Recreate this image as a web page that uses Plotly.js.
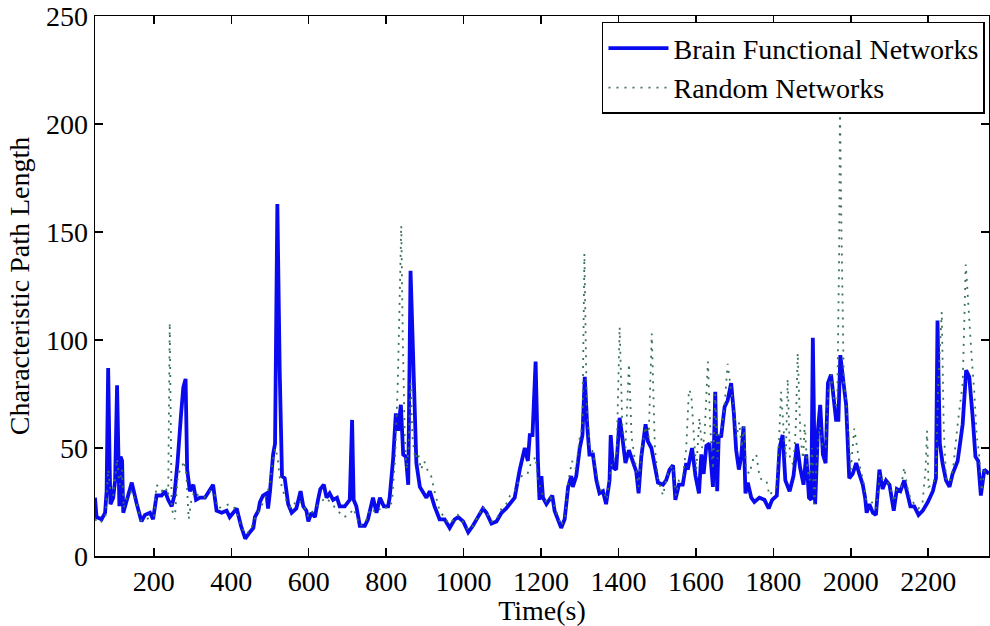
<!DOCTYPE html>
<html>
<head>
<meta charset="utf-8">
<script src="https://cdn.plot.ly/plotly-3.0.1.min.js"></script>
<style>html,body{margin:0;padding:0;background:#fff;}#chart{width:990px;height:626px;}</style>
</head>
<body>
<div id="chart"></div>
<script>
// Brain functional networks (solid blue)
const brainTime = [48,52,65,74,78,82,86,88,95,100,105,109,111,114,118,121,130,143,156,168,177,190,198,207,220,229,237,246,253,261,270,276,282,286,293,302,309,319,332,343,353,362,375,388,396,405,414,425,436,448,457,461,470,474,482,491,495,500,508,513,519,525,531,538,547,556,568,579,586,594,599,607,616,624,630,639,646,654,663,673,680,693,706,712,716,723,732,745,753,762,766,775,784,794,805,809,818,825,831,838,844,851,857,863,870,878,887,895,904,913,925,938,951,964,977,986,999,1012,1024,1037,1050,1059,1072,1085,1098,1110,1119,1132,1145,1158,1166,1171,1178,1186,1192,1196,1201,1205,1214,1222,1229,1235,1244,1252,1261,1270,1278,1282,1291,1300,1307,1313,1319,1325,1334,1343,1351,1360,1368,1377,1380,1386,1394,1403,1410,1418,1427,1436,1446,1452,1459,1470,1476,1485,1493,1502,1515,1523,1532,1541,1547,1556,1566,1575,1579,1590,1599,1608,1614,1620,1627,1635,1644,1650,1655,1659,1665,1674,1682,1691,1698,1704,1711,1717,1723,1728,1734,1743,1751,1764,1777,1788,1797,1809,1816,1824,1831,1842,1852,1861,1869,1878,1885,1892,1898,1902,1908,1915,1921,1928,1935,1941,1949,1958,1962,1968,1973,1982,1988,1992,1996,2005,2014,2022,2031,2037,2041,2048,2057,2065,2074,2082,2091,2100,2111,2119,2128,2138,2145,2154,2164,2175,2186,2199,2212,2220,2224,2230,2237,2246,2255,2263,2276,2289,2298,2306,2315,2322,2329,2336,2345,2357];
const brainCPL = [27,18,17,20,30,87,40,24,27,35,79,30,23,46,44,20,26,34,24,16,19,20,17,28,28,30,26,23,28,43,65,78,82,40,30,33,26,27,27,30,33,21,20,21,18,20,22,14,8,11,13,18,21,25,28,29,22,30,47,52,163,86,37,36,24,20,22,30,23,21,16,20,18,26,31,33,27,29,26,27,23,23,26,63,26,23,14,14,17,24,27,20,27,23,23,27,45,66,58,70,47,46,33,132,86,43,32,30,27,30,23,17,17,13,17,18,16,11,14,18,22,20,15,16,20,22,24,27,40,50,44,56,56,90,44,26,37,27,24,26,28,21,17,13,17,32,37,32,37,50,56,83,61,47,47,35,29,30,24,35,56,41,40,64,55,43,49,44,39,29,46,61,53,50,43,34,33,35,40,42,26,33,33,43,40,50,37,29,47,38,51,52,32,76,30,56,55,69,72,80,66,49,40,46,60,29,34,27,25,27,26,22,26,28,50,56,35,30,37,52,41,33,47,27,26,101,24,58,70,47,43,80,84,67,63,63,93,79,70,53,36,38,43,38,33,27,20,24,20,19,40,31,35,33,21,31,30,35,29,23,23,19,21,25,30,36,109,52,43,35,32,38,44,61,86,83,64,46,44,28,40,38];

// Random networks (dotted green)
const randTime = [48,60,75,82,88,96,105,112,118,122,130,143,156,168,180,192,200,207,220,230,237,241,246,254,262,270,278,284,290,297,305,315,330,345,355,365,380,395,410,425,437,450,462,475,490,500,508,514,520,526,534,545,555,570,585,600,615,630,645,660,675,690,705,715,722,732,745,760,775,790,805,815,823,830,835,839,843,848,853,858,863,868,875,882,890,898,906,915,925,938,950,962,975,985,998,1012,1025,1038,1050,1060,1072,1085,1098,1110,1120,1132,1145,1155,1165,1172,1180,1186,1192,1198,1205,1214,1225,1235,1245,1252,1262,1270,1280,1290,1300,1307,1312,1318,1326,1335,1345,1355,1362,1370,1378,1385,1395,1403,1410,1418,1427,1434,1446,1452,1460,1470,1478,1486,1494,1502,1515,1524,1532,1541,1548,1556,1566,1575,1582,1588,1595,1601,1609,1616,1622,1631,1637,1644,1650,1656,1662,1668,1675,1682,1690,1698,1705,1712,1718,1724,1730,1738,1748,1756,1765,1775,1782,1790,1798,1808,1815,1820,1826,1832,1837,1843,1852,1858,1863,1870,1877,1881,1888,1894,1900,1906,1912,1920,1928,1935,1941,1949,1958,1965,1970,1972,1976,1982,1988,1993,2000,2009,2018,2025,2032,2040,2050,2058,2066,2075,2083,2091,2100,2112,2120,2130,2138,2146,2155,2165,2175,2185,2193,2197,2201,2212,2220,2226,2235,2240,2246,2256,2264,2276,2289,2297,2305,2313,2319,2325,2331,2338,2346,2357];
const randCPL = [17,15,18,40,30,28,45,33,40,22,27,30,24,16,17,18,18,33,30,32,28,108,22,17,38,40,44,38,17,26,30,28,27,30,30,22,23,24,22,14,10,12,18,22,28,33,45,50,45,35,30,24,22,26,24,18,22,25,27,24,21,18,19,22,19,14,15,22,20,23,22,25,45,80,120,153,100,55,40,50,80,55,45,48,40,44,40,38,30,21,18,15,17,19,16,12,14,19,23,20,16,17,22,24,28,30,36,38,38,42,44,46,35,32,28,25,27,23,18,14,18,34,44,40,55,60,140,70,50,48,36,30,30,26,38,45,45,106,60,50,89,55,40,32,50,60,55,103,50,36,28,36,40,42,28,35,36,50,77,75,55,40,64,50,55,90,60,40,75,45,58,60,72,89,78,68,55,62,50,60,40,38,45,47,36,35,35,28,30,32,55,76,60,45,82,45,42,60,94,55,45,61,40,35,50,24,45,60,50,50,75,84,70,70,140,210,150,80,72,60,40,59,47,40,35,26,26,24,22,38,35,35,33,25,32,32,41,32,26,24,22,24,40,58,32,33,38,80,113,60,36,34,40,61,80,135,110,90,76,56,48,30,40,38];

// Axis ticks
const xTicks = [200,400,600,800,1000,1200,1400,1600,1800,2000,2200];
const yTicks = [0,50,100,150,200,250];

const serif = '"Liberation Serif", "Times New Roman", Times, serif';

const traces = [
  {
    x: brainTime, y: brainCPL, type: 'scatter', mode: 'lines',
    name: 'Brain Functional Networks',
    line: {color: '#0a0aee', width: 3.8}
  },
  {
    x: randTime, y: randCPL, type: 'scatter', mode: 'lines',
    name: 'Random Networks',
    line: {color: '#3a7458', width: 1.8, dash: '2px,6px'}
  }
];

const axisCommon = {
  showline: true, linecolor: '#000', linewidth: 1.5, mirror: 'ticks',
  ticks: 'inside', ticklen: 8, tickwidth: 1.5, tickcolor: '#000',
  showgrid: false, zeroline: false, ticklabeloverflow: 'allow',
  tickfont: {family: serif, size: 28, color: '#000'}
};

const layout = {
  width: 990, height: 626,
  margin: {l: 95, r: 1, t: 16, b: 70},
  paper_bgcolor: '#fff', plot_bgcolor: '#fff',
  font: {family: serif, color: '#000', size: 28},
  showlegend: true,
  legend: {
    x: 0.9955, xanchor: 'right', y: 0.989, yanchor: 'top',
    bgcolor: '#fff', bordercolor: '#000', borderwidth: 1.5,
    font: {family: serif, size: 28, color: '#000'},
    itemwidth: 60, tracegroupgap: 0
  },
  xaxis: Object.assign({}, axisCommon, {
    range: [48, 2357], tickmode: 'array', tickvals: xTicks,
    ticktext: xTicks.map(String),
    title: {text: 'Time(s)', font: {family: serif, size: 28, color: '#000'}, standoff: 0}
  }),
  yaxis: Object.assign({}, axisCommon, {
    range: [0, 250], tickmode: 'array', tickvals: yTicks,
    ticktext: yTicks.map(String),
    title: {text: 'Characteristic Path Length', font: {family: serif, size: 28, color: '#000'}, standoff: 8}
  })
};

Plotly.newPlot('chart', traces, layout, {displayModeBar: false, staticPlot: true});
</script>
</body>
</html>
